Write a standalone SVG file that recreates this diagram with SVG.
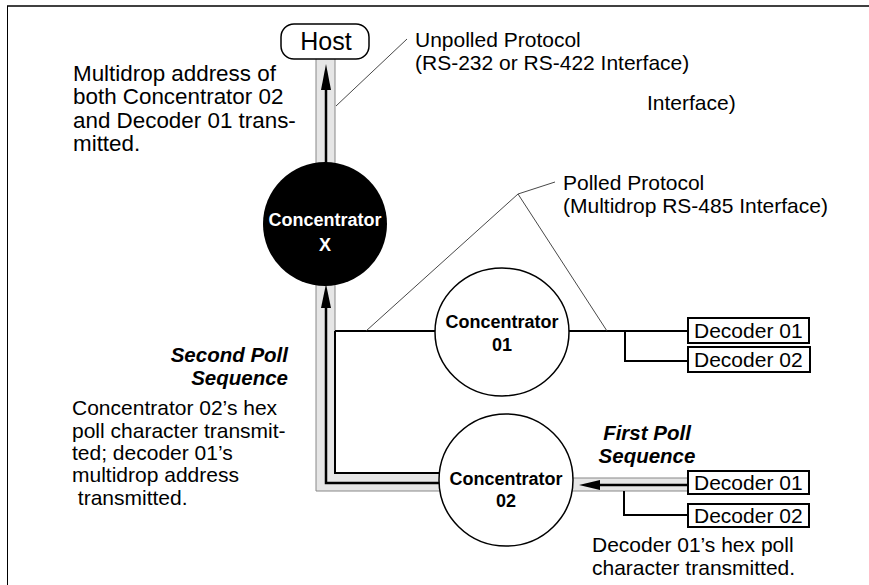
<svg xmlns="http://www.w3.org/2000/svg" width="869" height="585" viewBox="0 0 869 585">
  <style>
    text { font-family: "Liberation Sans", Arial, sans-serif; fill: #000; }
    .note { font-size: 21px; }
    .big { font-size: 22.4px; }
    .seq { font-size: 20.5px; font-weight: bold; font-style: italic; }
    .node { font-size: 18px; font-weight: bold; text-anchor: middle; }
    .dec { font-size: 21px; }
    .band { fill: #e6e6e6; stroke: #888; stroke-width: 1; }
    .wire { fill: none; stroke: #000; stroke-width: 2; }
    .flow { fill: none; stroke: #000; stroke-width: 2.5; }
    .lead { fill: none; stroke: #333; stroke-width: 0.9; }
    .box { fill: #fff; stroke: #000; stroke-width: 2; }
    .ring { fill: #fff; stroke: #000; stroke-width: 1.5; }
  </style>

  <!-- page frame -->
  <g id="frame">
    <line x1="7" y1="6" x2="869" y2="6" stroke="#000" stroke-width="1.5"/>
    <line x1="7.5" y1="6" x2="7.5" y2="585" stroke="#000" stroke-width="1"/>
  </g>

  <!-- connectors: shaded data paths, bus wiring, leader lines -->
  <g id="connectors">
    <rect class="band" x="316" y="58" width="19" height="108"/>
    <polygon class="band" points="316,280 335,280 335,473 460,473 460,491 316,491"/>
    <rect class="band" x="555" y="478" width="133" height="13"/>

    <!-- unpolled path: Concentrator X to Host -->
    <line class="flow" x1="326" y1="88" x2="326" y2="165"/>
    <polygon points="326,64 321,90 331,90" fill="#000"/>

    <!-- polled path: Concentrator 02 to Concentrator X -->
    <path class="flow" d="M445,483 H326 V306"/>
    <polygon points="326,284 321,308 331,308" fill="#000"/>

    <!-- multidrop bus -->
    <path class="wire" d="M335,331 H437"/>
    <path class="wire" d="M335,331 V473 H442"/>
    <path class="wire" d="M568,331 H688"/>
    <path class="wire" d="M625,331 V361 H688"/>

    <!-- first poll: Decoder 01 to Concentrator 02 -->
    <line class="flow" x1="598" y1="485" x2="688" y2="485"/>
    <polygon points="579,485 600,480 600,490" fill="#000"/>
    <path class="wire" d="M624,491 V515 H688"/>

    <!-- callout leaders -->
    <line class="lead" x1="407" y1="39" x2="336" y2="106"/>
    <polyline class="lead" points="555,182 518,194 366,331"/>
    <line class="lead" x1="518" y1="194" x2="607" y2="331"/>
  </g>

  <g id="host">
    <rect x="281" y="24" width="88" height="35" rx="13" fill="#fff" stroke="#000" stroke-width="1.5"/>
    <text x="326" y="50" font-size="25" text-anchor="middle">Host</text>
  </g>

  <g id="concentrator-x">
    <circle cx="325" cy="224" r="62" fill="#000"/>
    <text class="node" x="325" y="226" style="fill:#fff">Concentrator</text>
    <text class="node" x="325" y="251" style="fill:#fff">X</text>
  </g>

  <g id="concentrator-01">
    <ellipse class="ring" cx="502" cy="332" rx="67" ry="64"/>
    <text class="node" x="502" y="328">Concentrator</text>
    <text class="node" x="502" y="351">01</text>
  </g>

  <g id="concentrator-02">
    <ellipse class="ring" cx="506" cy="480" rx="67" ry="66"/>
    <text class="node" x="506" y="485">Concentrator</text>
    <text class="node" x="506" y="507">02</text>
  </g>

  <g id="decoder-01-a">
    <rect class="box" x="688" y="318" width="121" height="25"/>
    <text class="dec" x="694" y="338">Decoder 01</text>
  </g>
  <g id="decoder-02-a">
    <rect class="box" x="688" y="347" width="122" height="25"/>
    <text class="dec" x="694" y="367">Decoder 02</text>
  </g>
  <g id="decoder-01-b">
    <rect class="box" x="688" y="471" width="121" height="23"/>
    <text class="dec" x="694" y="490">Decoder 01</text>
  </g>
  <g id="decoder-02-b">
    <rect class="box" x="688" y="504" width="121" height="23"/>
    <text class="dec" x="694" y="523">Decoder 02</text>
  </g>

  <!-- annotations -->
  <g id="notes">
    <text class="note" x="415" y="47">Unpolled Protocol</text>
    <text class="note" x="415" y="70">(RS-232 or RS-422 Interface)</text>
    <text class="note" x="647" y="110">Interface)</text>

    <text class="note" x="563" y="190">Polled Protocol</text>
    <text class="note" x="563" y="213">(Multidrop RS-485 Interface)</text>

    <text class="big" x="73" y="81">Multidrop address of</text>
    <text class="big" x="73" y="104">both Concentrator 02</text>
    <text class="big" x="73" y="128">and Decoder 01 trans-</text>
    <text class="big" x="73" y="151">mitted.</text>

    <text class="seq" x="288" y="362" text-anchor="end">Second Poll</text>
    <text class="seq" x="288" y="385" text-anchor="end">Sequence</text>

    <text class="note" x="72" y="415">Concentrator 02’s hex</text>
    <text class="note" x="72" y="438">poll character transmit-</text>
    <text class="note" x="72" y="460">ted; decoder 01’s</text>
    <text class="note" x="72" y="482">multidrop address</text>
    <text class="note" x="72" y="505" xml:space="preserve"> transmitted.</text>

    <text class="seq" x="647" y="440" text-anchor="middle">First Poll</text>
    <text class="seq" x="647" y="463" text-anchor="middle">Sequence</text>

    <text class="note" x="592" y="552">Decoder 01’s hex poll</text>
    <text class="note" x="592" y="575">character transmitted.</text>
  </g>
</svg>
